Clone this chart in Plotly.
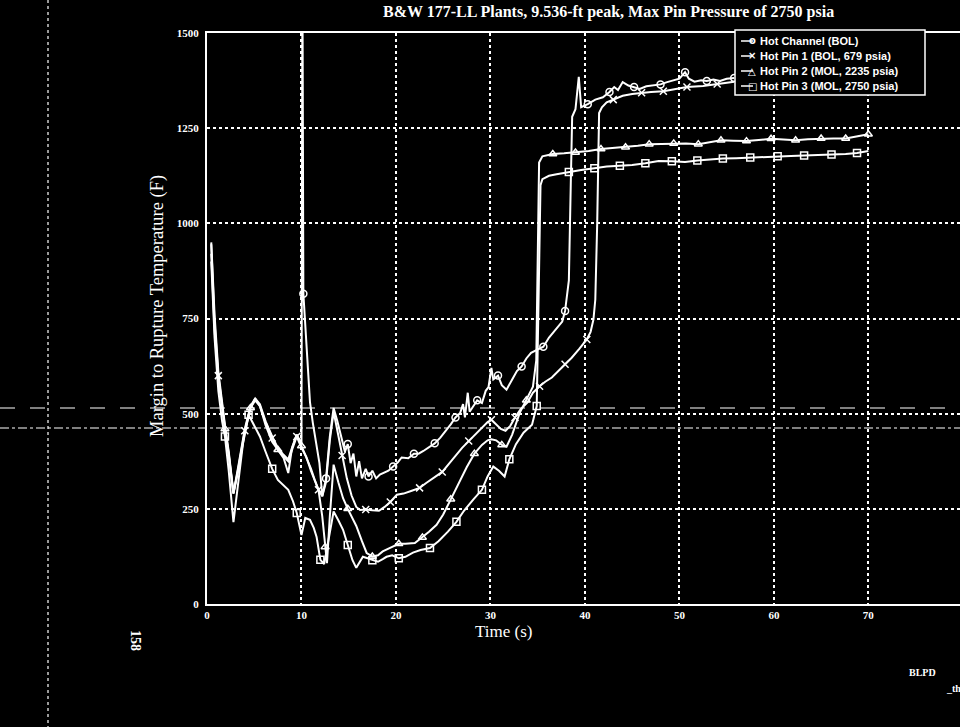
import plotly.graph_objects as go

# ---- Hot Channel (BOL): time (s), margin to rupture temperature (F)
hc_t = [0.45, 0.8, 1.2, 1.6, 1.9, 2.3, 2.8, 3.3, 4.0, 4.6, 5.1, 5.6, 6.2, 6.9, 7.5, 8.1, 8.6, 9.0,
        9.5, 10.0, 10.1, 10.2, 10.6, 10.9, 11.2, 11.6, 11.9, 12.2, 12.6, 13.0, 13.4, 13.8, 14.2,
        14.6, 14.9, 15.2, 15.5, 15.8, 16.1, 16.4, 16.8, 17.1, 17.5, 17.9, 18.3, 18.7, 19.2, 19.7,
        20.2, 20.6, 21.3, 21.9, 22.4, 22.9, 23.5, 24.1, 24.7, 25.3, 25.8, 26.3, 26.8, 27.1, 27.3,
        27.6, 27.8, 28.2, 28.6, 29.1, 29.5, 29.8, 30.1, 30.3, 30.8, 31.2, 31.7, 32.3, 32.8, 33.3,
        33.8, 34.3, 34.9, 35.6, 36.2, 36.9, 37.6, 37.9, 38.3, 38.5, 38.65, 39.0, 39.35, 39.6, 40.3,
        41.1, 41.9, 42.6, 43.1, 43.5, 44.0, 44.6, 45.2, 45.8, 46.5, 47.2, 48.0, 48.7, 49.4, 50.0,
        50.6, 51.0, 51.6, 52.3, 52.9, 53.6, 54.3, 55.0, 55.8]
hc_v = [950, 760, 610, 520, 470, 400, 292, 360, 460, 520, 540, 525, 480, 440, 410, 392, 380, 410,
        445, 420, 1650, 815, 640, 530, 476, 420, 370, 283, 330, 440, 515, 480, 440,
        400, 420, 370, 395, 335, 375, 330, 355, 335, 350, 330, 340, 345, 350, 361,
        372, 385, 383, 395, 395, 402, 412, 422, 437, 455, 472, 490, 502, 525, 490,
        555, 505, 520, 535, 528, 560, 570, 620, 590, 600, 575, 563, 590, 612, 624,
        645, 660, 668, 676, 700, 722, 742, 770, 850, 1100, 1280, 1300, 1385, 1305, 1313,
        1325, 1331, 1345, 1358, 1350, 1371, 1362, 1358, 1353, 1360, 1363, 1365, 1371, 1375, 1380,
        1397, 1380, 1372, 1376, 1374, 1378, 1374, 1380, 1382]

# ---- Hot Pin 1 (BOL, 679 psia)
p1_t = [0.45, 0.8, 1.2, 1.6, 1.9, 2.3, 2.8, 3.3, 4.0, 4.6, 5.1, 5.6, 6.2, 6.9, 7.5, 8.1, 8.6, 9.0,
        9.5, 10.0, 10.5, 11.0, 11.4, 11.8, 12.2, 12.6, 13.0, 13.4, 13.8, 14.3, 14.8, 15.3, 15.8,
        16.2, 16.8, 17.5, 18.2, 18.8, 19.4, 20.1, 20.8, 21.6, 22.5, 23.2, 23.9, 24.9, 25.6, 26.3,
        27.0, 27.7, 28.4, 29.2, 29.7, 30.1, 30.6, 31.1, 31.6, 32.1, 32.6, 33.2, 33.9, 34.5, 35.2,
        35.8, 36.5, 37.2, 37.9, 38.6, 39.4, 40.2, 40.6, 40.9, 41.1, 41.3, 41.5, 41.8, 42.3, 43.0,
        44.0, 45.0, 46.0, 47.0, 48.3, 49.5, 50.8, 52.5, 54.0, 55.8]
p1_v = [945, 740, 600, 515, 465, 395, 290, 355, 455, 515, 535, 520, 478, 436, 405, 388, 375, 405,
        440, 410, 387, 350, 326, 300, 283, 320, 430, 505, 455, 390, 330, 285, 255,
        247, 248, 246, 245, 255, 268, 287, 290, 297, 305, 318, 330, 347, 368, 390,
        410, 428, 445, 466, 478, 484, 472, 460, 455, 468, 490, 512, 529, 555, 572,
        584, 595, 612, 630, 647, 670, 695, 715, 747, 800, 1000, 1290, 1305, 1318, 1325,
        1335, 1340, 1343, 1345, 1347, 1352, 1358, 1361, 1366, 1372]

# ---- Hot Pin 2 (MOL, 2235 psia)
p2_t = [0.45, 0.8, 1.2, 1.6, 1.9, 2.3, 2.8, 3.3, 4.0, 4.6, 5.1, 5.6, 6.2, 6.9, 7.5, 8.1, 8.6, 9.0,
        9.5, 10.0, 10.5, 11.0, 11.4, 11.8, 12.2, 12.5, 12.7, 13.0, 13.4, 13.9, 14.4, 14.9, 15.4,
        15.8, 16.4, 16.9, 17.5, 18.1, 18.6, 19.1, 19.6, 20.3, 21.0, 22.0, 22.8, 23.5, 24.3, 25.0,
        25.8, 26.8, 27.5, 28.3, 29.1, 29.7, 30.1, 30.6, 31.2, 31.7, 32.3, 33.1, 33.8, 34.5, 34.85,
        35.0, 35.15, 35.5, 36.6, 37.8, 39.0, 40.4, 41.7, 43.0, 44.3, 45.6, 46.8, 48.1, 49.4, 50.7,
        52.0, 53.2, 54.4, 55.7, 57.1, 58.4, 59.7, 61.0, 62.3, 63.6, 65.0, 66.3, 67.6, 68.8, 70.0]
p2_v = [920, 720, 590, 510, 460, 390, 290, 350, 450, 515, 540, 520, 470, 426, 405, 384, 344, 410,
        445, 415, 387, 356, 326, 300, 230, 150, 107, 230, 366, 320, 278, 250, 225,
        205, 165, 134, 125, 128, 138, 145, 150, 158, 158, 160, 175, 190, 208, 235,
        275, 326, 360, 395, 418, 430, 433, 430, 418, 413, 445, 502, 535, 571, 640,
        900, 1160, 1176, 1182, 1184, 1186, 1190, 1195, 1198, 1200, 1204, 1208, 1209, 1210, 1210,
        1208, 1213, 1218, 1217, 1216, 1219, 1222, 1220, 1218, 1221, 1223, 1223, 1223, 1228, 1234]

# ---- Hot Pin 3 (MOL, 2750 psia)
p3_t = [0.45, 0.8, 1.2, 1.6, 1.9, 2.3, 2.8, 3.3, 3.8, 4.4, 5.0, 5.6, 6.2, 6.9, 7.5, 8.1, 8.6, 9.1,
        9.5, 10.0, 10.4, 10.9, 11.3, 11.6, 12.0, 12.4, 12.9, 13.4, 13.9, 14.4, 14.9, 15.4, 15.8,
        16.2, 16.5, 17.0, 17.5, 18.1, 18.6, 19.0, 19.6, 20.3, 21.0, 21.8, 22.6, 23.6, 24.5, 25.5,
        26.4, 27.2, 28.2, 29.1, 29.7, 30.3, 30.9, 31.5, 32.0, 32.7, 33.5, 34.4, 34.9, 35.1, 35.3,
        35.5, 36.2, 37.0, 38.3, 39.6, 41.0, 42.3, 43.7, 45.0, 46.4, 47.8, 49.2, 50.6, 51.9, 53.1,
        54.6, 56.0, 57.5, 58.9, 60.4, 61.8, 63.2, 64.6, 66.1, 67.6, 68.8, 70.0]
p3_v = [900, 700, 560, 480, 440, 350, 215, 320, 420, 497, 470, 440, 400, 355, 326, 312, 300, 270,
        239, 181, 226, 221, 200, 176, 116, 105, 180, 243, 220, 195, 155, 115, 95,
        110, 124, 120, 115, 111, 118, 124, 128, 120, 124, 135, 142, 147, 165, 190,
        216, 245, 275, 300, 335, 361, 350, 335, 380, 420, 450, 471, 520, 800, 1100,
        1116, 1125, 1129, 1135, 1140, 1145, 1149, 1151, 1153, 1158, 1164, 1163, 1161, 1165, 1168,
        1170, 1171, 1173, 1175, 1176, 1177, 1178, 1179, 1181, 1182, 1185, 1190]

x_ticks = [0, 10, 20, 30, 40, 50, 60, 70]
y_ticks = [0, 250, 500, 750, 1000, 1250, 1500]

title_text = "B&W 177-LL Plants, 9.536-ft peak, Max Pin Pressure of 2750 psia"
x_title = "Time (s)"
y_title = "Margin to Rupture Temperature (F)"

# ---- page geometry (pixels)
W, H = 960, 727
ML, MR, MT, MB = 207, 0, 33, 123
PW, PH = W - ML - MR, H - MT - MB


def px(xp):
    return (xp - ML) / PW


def py(yp):
    return (H - MB - yp) / PH


def marker_points(ts, vs, step, start):
    """Pick existing samples roughly every `step` seconds for the symbols."""
    xs, ys, nxt = [], [], start
    for t, v in zip(ts, vs):
        if t >= nxt:
            xs.append(t)
            ys.append(v)
            nxt = t + step
    return xs, ys


INK = "white"
# name, times, values, plot symbol, legend glyph, symbol spacing (s), first symbol (s)
series = [
    ("Hot Channel (BOL)", hc_t, hc_v, "circle-open", "o", 2.2, 10.2),
    ("Hot Pin 1 (BOL, 679 psia)", p1_t, p1_v, "x-thin-open", "\u00d7", 2.3, 1.0),
    ("Hot Pin 2 (MOL, 2235 psia)", p2_t, p2_v, "triangle-up-open", "\u25b3", 2.4, 1.9),
    ("Hot Pin 3 (MOL, 2750 psia)", p3_t, p3_v, "square-open", "\u25a1", 2.5, 1.9),
]

fig = go.Figure()
for name, ts, vs, sym, glyph, step, start in series:
    fig.add_trace(go.Scatter(x=ts, y=vs, mode="lines", name=name, line=dict(color=INK, width=2),
                             showlegend=False, hoverinfo="skip"))
    mx, my = marker_points(ts, vs, step, start)
    fig.add_trace(go.Scatter(x=mx, y=my, mode="markers", name=name, showlegend=False,
                             marker=dict(symbol=sym, size=7, color=INK,
                                         line=dict(color=INK, width=1.5))))

serif = "Liberation Serif"
axis_common = dict(
    showline=True, linecolor=INK, linewidth=2,
    showgrid=True, gridcolor=INK, gridwidth=1.5, griddash="dot",
    zeroline=False, ticks="",
    tickfont=dict(family=serif, size=11, color=INK, weight="bold"),
)

fig.update_layout(
    width=W, height=H,
    margin=dict(l=ML, r=MR, t=MT, b=MB),
    paper_bgcolor="black", plot_bgcolor="black",
    xaxis=dict(range=[0, 79.7], tickvals=x_ticks, mirror=True, **axis_common),
    yaxis=dict(range=[0, 1500], tickvals=y_ticks, ticklabelstandoff=4, **axis_common),
    showlegend=False,
)

annots = [
    dict(text=title_text, x=px(608), y=py(12), font=dict(family=serif, size=16, color=INK, weight="bold")),
    dict(text=x_title, x=px(503), y=py(631), font=dict(family=serif, size=17, color=INK)),
    dict(text=y_title, x=px(157), y=py(306), textangle=-90, font=dict(family=serif, size=18.5, color=INK)),
    dict(text="158", x=px(136), y=py(640), textangle=90, font=dict(family=serif, size=14, color=INK, weight="bold")),
    dict(text="BLPD", x=px(922), y=py(672), font=dict(family=serif, size=10, color=INK, weight="bold")),
    dict(text="_th", x=px(953), y=py(688), font=dict(family=serif, size=10, color=INK, weight="bold")),
]
for a in annots:
    fig.add_annotation(xref="paper", yref="paper", showarrow=False, xanchor="center", yanchor="middle", **a)

# scanner streaks crossing the sheet
streaks = [
    dict(x0=px(0), x1=px(W), y0=py(408), y1=py(408), line=dict(color=INK, width=1.2, dash="longdash")),
    dict(x0=px(0), x1=px(W), y0=py(428), y1=py(428), line=dict(color=INK, width=1.2, dash="dashdot")),
    dict(x0=px(48), x1=px(48), y0=py(0), y1=py(H), line=dict(color=INK, width=1.2, dash="dot")),
]
for s in streaks:
    fig.add_shape(type="line", xref="paper", yref="paper", layer="above", **s)

# legend box: framed panel with a short line, symbol and name per series
LEG_L, LEG_R, LEG_T, LEG_B = 735, 925, 30, 95
fig.add_shape(type="rect", xref="paper", yref="paper", layer="above",
              x0=px(LEG_L), x1=px(LEG_R), y0=py(LEG_T), y1=py(LEG_B),
              line=dict(color=INK, width=1.5), fillcolor="black")
row_y = [41, 56, 71, 86]
for (name, _, _, _, glyph, _, _), yy in zip(series, row_y):
    fig.add_shape(type="line", xref="paper", yref="paper", layer="above",
                  x0=px(741), x1=px(753), y0=py(yy), y1=py(yy), line=dict(color=INK, width=1.5))
    fig.add_annotation(xref="paper", yref="paper", showarrow=False, text=glyph,
                       x=px(752), y=py(yy), xanchor="center", yanchor="middle",
                       font=dict(family="DejaVu Sans", size=10, color=INK, weight="bold"))
    fig.add_annotation(xref="paper", yref="paper", showarrow=False, text=name,
                       x=px(758), y=py(yy), xanchor="left", yanchor="middle",
                       font=dict(family="Liberation Sans", size=11, color=INK, weight="bold"))

fig.write_html("out.html")
